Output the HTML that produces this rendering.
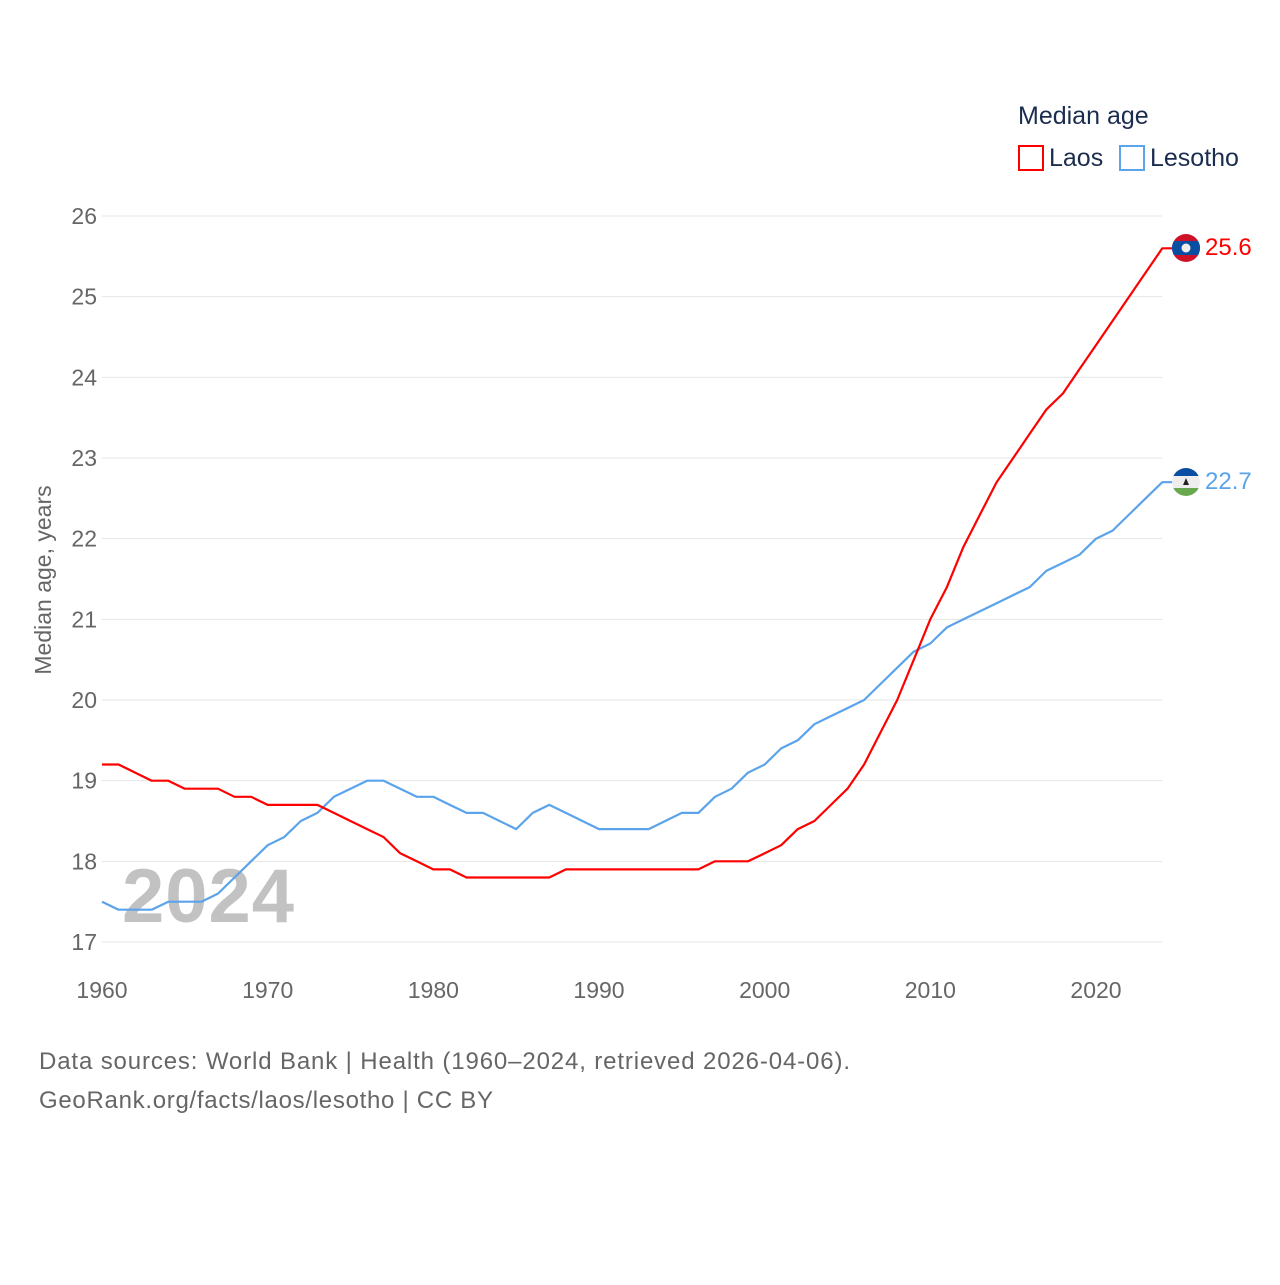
<!DOCTYPE html>
<html><head><meta charset="utf-8"><style>
html,body{margin:0;padding:0;background:#fff;}
body{width:1280px;height:1280px;overflow:hidden;font-family:"Liberation Sans",sans-serif;}
</style></head><body>
<svg id="chart" width="1280" height="1280" xmlns="http://www.w3.org/2000/svg" font-family="Liberation Sans, sans-serif">
<g id="grid"></g>
<g id="yticks"></g>
<g id="xticks"></g>
<text x="122" y="922" font-size="76" font-weight="bold" fill="#bbb" fill-opacity="0.9" textLength="172">2024</text>
<text transform="translate(51,580) rotate(-90)" text-anchor="middle" font-size="23" fill="#666">Median age, years</text>
<g id="series"></g>
<g>
<text x="1018" y="124" font-size="25" fill="#1b2d4f">Median age</text>
<rect x="1019" y="146" width="24" height="24" fill="none" stroke="#ff0000" stroke-width="2"/>
<text x="1049" y="166" font-size="25" fill="#1b2d4f">Laos</text>
<rect x="1120" y="146" width="24" height="24" fill="none" stroke="#5ba3ea" stroke-width="2"/>
<text x="1150" y="166" font-size="25" fill="#1b2d4f">Lesotho</text>
</g>
<g>
<clipPath id="c1"><circle cx="1186" cy="248" r="14"/></clipPath>
<g clip-path="url(#c1)"><rect x="1172" y="234" width="28" height="28" fill="#ce1126"/><rect x="1172" y="241" width="28" height="14" fill="#0a4ea3"/><circle cx="1186" cy="248" r="4.5" fill="#eee"/></g>
</g>
<g>
<clipPath id="c2"><circle cx="1186" cy="482" r="14"/></clipPath>
<g clip-path="url(#c2)"><rect x="1172" y="468" width="28" height="28" fill="#eee"/><rect x="1172" y="468" width="28" height="8" fill="#0a4ea3"/><rect x="1172" y="488" width="28" height="8" fill="#6aa84f"/><path d="M1183 485 L1189 485 L1186 478Z" fill="#222"/></g>
</g>
<text x="1205" y="255" font-size="24" fill="#ff0000">25.6</text>
<text x="1205" y="489" font-size="24" fill="#5ba3ea">22.7</text>
<text x="39" y="1069" font-size="24" fill="#666" textLength="811">Data sources: World Bank | Health (1960–2024, retrieved 2026-04-06).</text>
<text x="39" y="1108" font-size="24" fill="#666" textLength="454">GeoRank.org/facts/laos/lesotho | CC BY</text>
</svg>
<script>
const years = [];
for (let y = 1960; y <= 2024; y++) years.push(y);
const laos = [19.2,19.2,19.1,19.0,19.0,18.9,18.9,18.9,18.8,18.8,18.7,18.7,18.7,18.7,18.6,18.5,18.4,18.3,18.1,18.0,17.9,17.9,17.8,17.8,17.8,17.8,17.8,17.8,17.9,17.9,17.9,17.9,17.9,17.9,17.9,17.9,17.9,18.0,18.0,18.0,18.1,18.2,18.4,18.5,18.7,18.9,19.2,19.6,20.0,20.5,21.0,21.4,21.9,22.3,22.7,23.0,23.3,23.6,23.8,24.1,24.4,24.7,25.0,25.3,25.6];
const lesotho = [17.5,17.4,17.4,17.4,17.5,17.5,17.5,17.6,17.8,18.0,18.2,18.3,18.5,18.6,18.8,18.9,19.0,19.0,18.9,18.8,18.8,18.7,18.6,18.6,18.5,18.4,18.6,18.7,18.6,18.5,18.4,18.4,18.4,18.4,18.5,18.6,18.6,18.8,18.9,19.1,19.2,19.4,19.5,19.7,19.8,19.9,20.0,20.2,20.4,20.6,20.7,20.9,21.0,21.1,21.2,21.3,21.4,21.6,21.7,21.8,22.0,22.1,22.3,22.5,22.7];
const yTicks = [17,18,19,20,21,22,23,24,25,26];
const xTicks = [1960,1970,1980,1990,2000,2010,2020];
const NS = "http://www.w3.org/2000/svg";
const xS = v => 102 + (v - 1960) * (1096 - 102) / 60;
const yS = v => 942 - (v - 17) * (942 - 216) / 9;
function mk(tag, attrs, parent, txt) {
  const e = document.createElementNS(NS, tag);
  for (const k in attrs) e.setAttribute(k, attrs[k]);
  if (txt !== undefined) e.textContent = txt;
  parent.appendChild(e);
  return e;
}
const grid = document.getElementById('grid'), yt = document.getElementById('yticks'), xt = document.getElementById('xticks'), ser = document.getElementById('series');
yTicks.forEach(t => {
  const l = mk('line', {x1: 102, x2: 1162, y1: yS(t), y2: yS(t), stroke: '#e6e6e6', 'stroke-width': 1}, grid);
  
  
  const tx = mk('text', {x: 97, y: yS(t) + 8, 'text-anchor': 'end', 'font-size': 23, fill: '#666'}, yt, String(t));
  
  
});
xTicks.forEach(t => {
  const tx = mk('text', {x: xS(t), y: 998, 'text-anchor': 'middle', 'font-size': 23, fill: '#666'}, xt, String(t));
  
  
});
function line(vals, color, name) {
  let d = vals.map((v, i) => (i ? 'L' : 'M') + xS(years[i]).toFixed(1) + ' ' + yS(v).toFixed(1)).join(' ');
  d += ' L' + (xS(years[years.length - 1]) + 10) + ' ' + yS(vals[vals.length - 1]).toFixed(1);
  const p = mk('path', {d: d, fill: 'none', stroke: color, 'stroke-width': 2.2, 'stroke-linejoin': 'round'}, ser);
  
  
}
line(lesotho, '#5ba3ea', 'line-lesotho');
line(laos, '#ff0000', 'line-laos');
</script>
</body></html>
